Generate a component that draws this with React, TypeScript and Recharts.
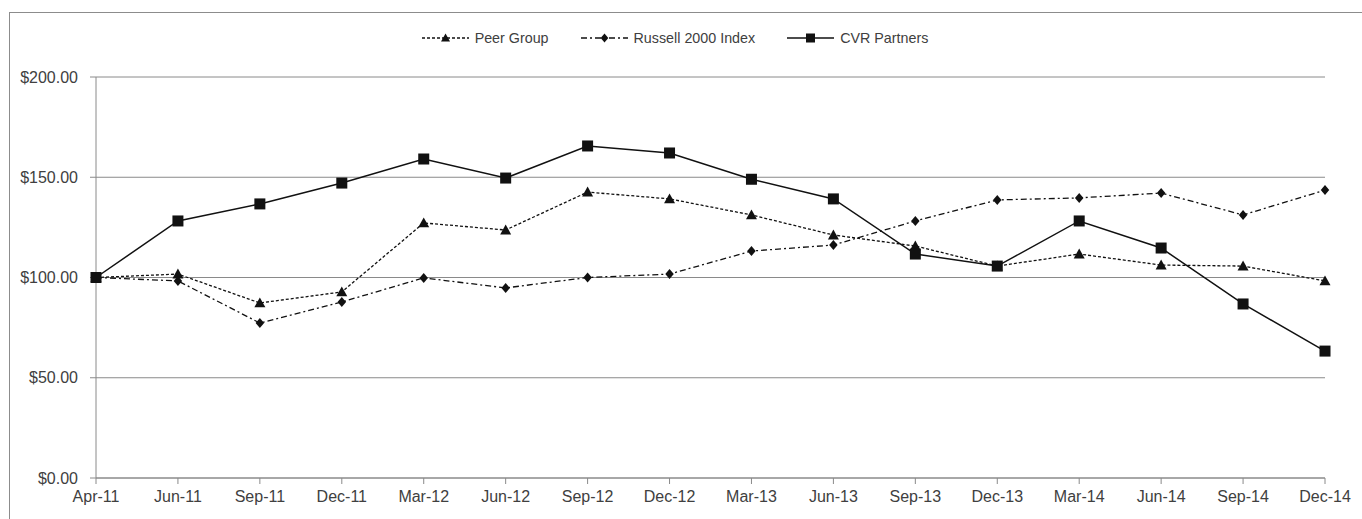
import React from "react";
import { LineChart, Line, XAxis, YAxis, CartesianGrid, Legend } from "recharts";

const dates = ["Apr-11","Jun-11","Sep-11","Dec-11","Mar-12","Jun-12","Sep-12","Dec-12","Mar-13","Jun-13","Sep-13","Dec-13","Mar-14","Jun-14","Sep-14","Dec-14"];
const peerGroup = [100, 101.7, 87.3, 92.8, 127.2, 123.7, 142.6, 139.2, 131.2, 121.2, 115.7, 105.7, 111.7, 106.2, 105.7, 98.3];
const russell2000 = [100, 98.3, 77.3, 87.8, 99.8, 94.8, 100, 101.7, 113.2, 116.2, 128.2, 138.7, 139.7, 142.1, 131.2, 143.6];
const cvrPartners = [100, 128.2, 136.7, 147.1, 159.1, 149.6, 165.6, 162.1, 149, 139.2, 111.7, 105.7, 128.2, 114.7, 86.8, 63.3];
const yTicks = [0, 50, 100, 150, 200];

const data = dates.map((d, i) => ({ date: d, peer: peerGroup[i], russell: russell2000[i], cvr: cvrPartners[i] }));

const FONT = "'Liberation Sans', Arial, sans-serif";
const TEXT = "#404040";
const GRAY = "#8a8a8a";
const INK = "#111";

const Triangle = ({ cx, cy, s = 5 }: any) => (
  <path d={`M${cx},${cy - s} L${cx + s},${cy + s * 0.8} L${cx - s},${cy + s * 0.8} Z`} fill={INK} />
);
const Diamond = ({ cx, cy, s = 5 }: any) => (
  <path d={`M${cx},${cy - s} L${cx + s * 0.85},${cy} L${cx},${cy + s} L${cx - s * 0.85},${cy} Z`} fill={INK} />
);
const Square = ({ cx, cy, s = 5 }: any) => (
  <rect x={cx - s} y={cy - s} width={s * 2} height={s * 2} fill={INK} />
);

const legendItems = [
  { label: "Peer Group", dash: "3 2", Marker: Triangle },
  { label: "Russell 2000 Index", dash: "6 3 2 3", Marker: Diamond },
  { label: "CVR Partners", dash: undefined, Marker: Square },
];

const renderLegend = () => (
  <div style={{ display: "flex", justifyContent: "center", alignItems: "center", height: 20, gap: 32, fontFamily: FONT, fontSize: 14.3, color: TEXT }}>
    {legendItems.map(({ label, dash, Marker }) => (
      <div key={label} style={{ display: "flex", alignItems: "center" }}>
        <svg width={47} height={14}>
          <line x1={0} y1={7} x2={47} y2={7} stroke={INK} strokeWidth={1.3} strokeDasharray={dash} />
          <Marker cx={23.5} cy={7} s={4.5} />
        </svg>
        <span style={{ marginLeft: 6 }}>{label}</span>
      </div>
    ))}
  </div>
);

const mkDot = (Marker: any, s: number) => (props: any) => {
  const { cx, cy, index } = props;
  if (cx == null || cy == null) return <g key={index} />;
  return <Marker key={index} cx={cx} cy={cy} s={s} />;
};

export default function App() {
  return (
    <div style={{ position: "fixed", left: 0, top: 0, width: 1362, height: 519, overflow: "hidden", background: "#fff" }}>
      <div style={{ position: "absolute", left: 9, top: 12, width: 1400, height: 600, border: "1px solid #8c8c8c" }} />
      <div style={{ position: "absolute", left: 0, top: 0 }}>
        <LineChart width={1362} height={519} data={data} margin={{ top: 57, right: 37, bottom: 11, left: 0 }}>
          <CartesianGrid vertical={false} stroke={GRAY} strokeWidth={1} />
          <Legend verticalAlign="top" height={20} content={renderLegend} wrapperStyle={{ top: 28, left: -6, width: 1362 }} />
          <XAxis
            dataKey="date"
            interval={0}
            tickSize={6}
            tickMargin={7}
            height={30}
            axisLine={{ stroke: GRAY }}
            tickLine={{ stroke: GRAY }}
            tick={{ fill: TEXT, fontSize: 16, fontFamily: FONT }}
          />
          <YAxis
            domain={[0, 200]}
            ticks={yTicks}
            width={96}
            tickSize={6}
            tickMargin={12}
            axisLine={{ stroke: GRAY }}
            tickLine={{ stroke: GRAY }}
            tickFormatter={(v: number) => `$${v.toFixed(2)}`}
            tick={{ fill: TEXT, fontSize: 16, fontFamily: FONT }}
          />
          <Line type="linear" dataKey="peer" stroke={INK} strokeWidth={1.3} strokeDasharray="3 2" dot={mkDot(Triangle, 5.5)} isAnimationActive={false} />
          <Line type="linear" dataKey="russell" stroke={INK} strokeWidth={1.3} strokeDasharray="6 3 2 3" dot={mkDot(Diamond, 5)} isAnimationActive={false} />
          <Line type="linear" dataKey="cvr" stroke={INK} strokeWidth={1.5} dot={mkDot(Square, 5.5)} isAnimationActive={false} />
        </LineChart>
      </div>
    </div>
  );
}
